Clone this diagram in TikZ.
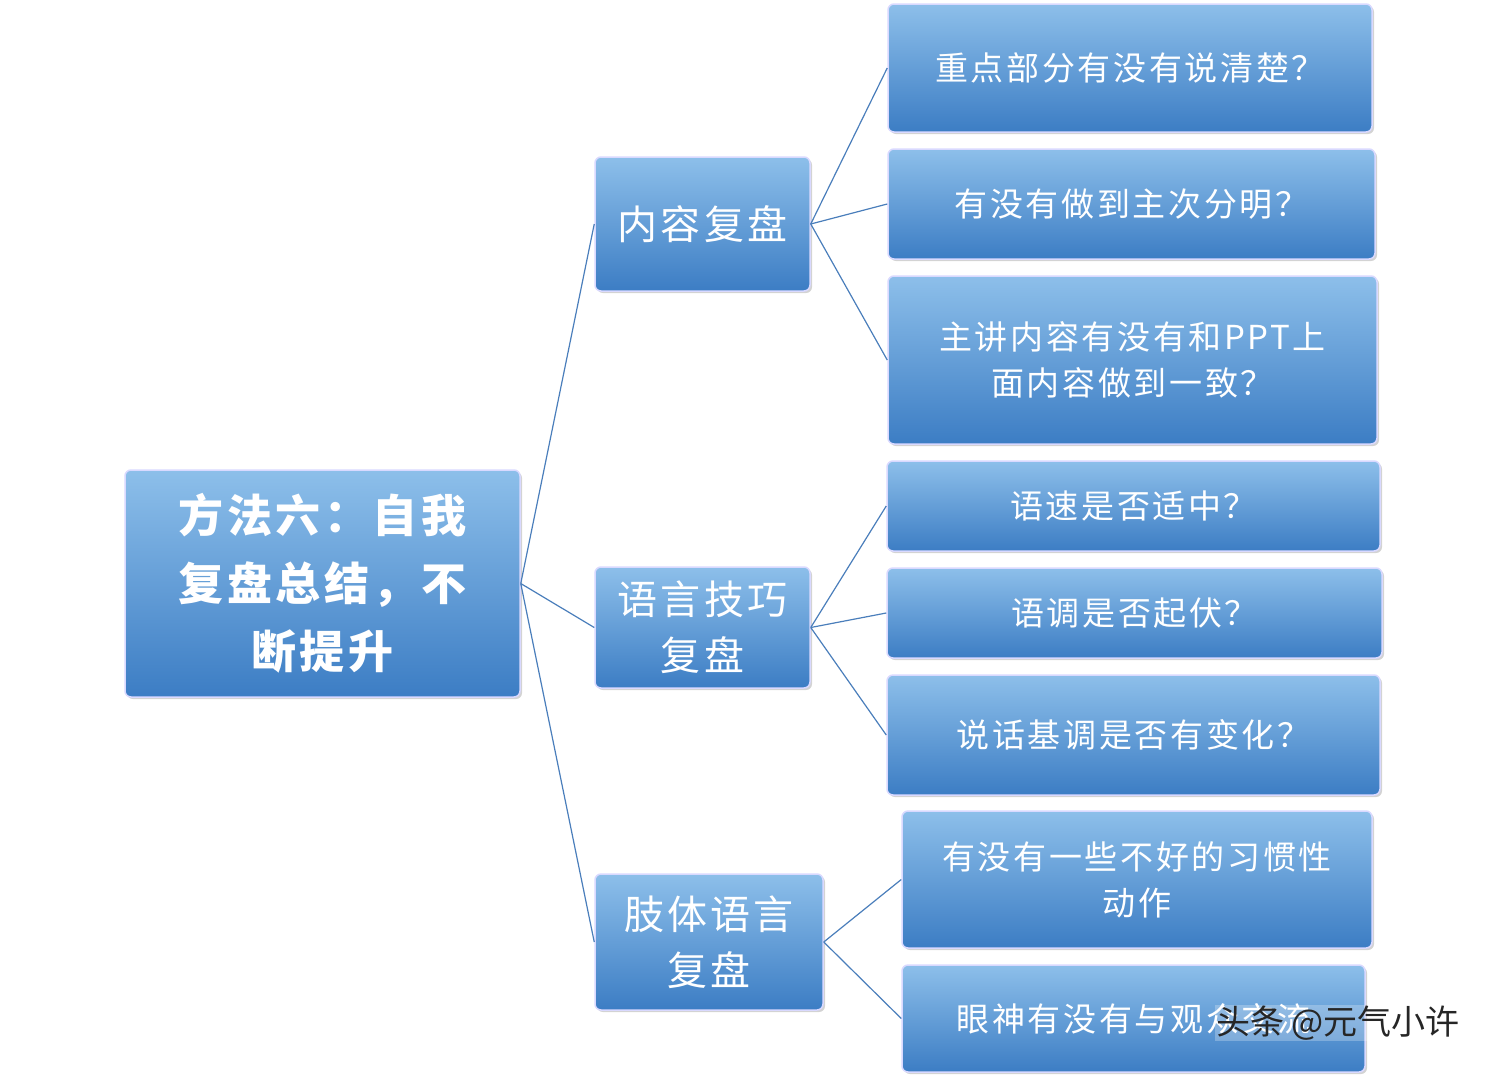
\documentclass[tikz,border=0pt]{standalone}
\usepackage{fontspec}
\setmainfont{Noto Sans CJK SC}[LetterSpace=8]
\usetikzlibrary{shadows}
\definecolor{ln}{HTML}{4A7EBB}
\definecolor{tc}{HTML}{8DBFEA}
\definecolor{bc}{HTML}{3C7DC4}
\tikzset{
 bx/.style={draw=white!85!blue,line width=1.5pt,rounded corners=6pt,top color=tc,bottom color=bc,
   text=white,align=center,inner sep=0pt,drop shadow={opacity=0.35,shadow xshift=2pt,shadow yshift=-2pt}},
 cn/.style={draw=ln,line width=1.2pt}
}
\begin{document}
\begin{tikzpicture}[x=1pt,y=-1pt]
\useasboundingbox (0,0) rectangle (1508,1077);
\newcommand\bxn[6]{\node[bx,minimum width=#4-#2,minimum height=#5-#3,font=\fontsize{33}{46}\selectfont] (#1) at ({(#2+#4)/2},{(#3+#5)/2}) {#6};}
\node[bx,minimum width=395,minimum height=227,font=\fontsize{45}{68}\selectfont\bfseries] (r) at (322.5,583.5) {方法六：自我\\复盘总结，不\\断提升};
\node[bx,minimum width=215,minimum height=134,font=\fontsize{40}{56}\selectfont] (a) at (702.5,224) {内容复盘};
\node[bx,minimum width=215,minimum height=121,font=\fontsize{40}{56}\selectfont] (b) at (702.5,627.5) {语言技巧\\复盘};
\node[bx,minimum width=228,minimum height=136,font=\fontsize{40}{56}\selectfont] (c) at (709,942) {肢体语言\\复盘};
\bxn{a1}{888}{4}{1372}{132}{重点部分有没有说清楚？}
\bxn{a2}{888}{149}{1375}{259}{有没有做到主次分明？}
\bxn{a3}{888}{276}{1377}{444}{主讲内容有没有和PPT上\\面内容做到一致？}
\bxn{b1}{887}{461}{1380}{551}{语速是否适中？}
\bxn{b2}{887}{568}{1382}{658}{语调是否起伏？}
\bxn{b3}{887}{675}{1380}{795}{说话基调是否有变化？}
\bxn{c1}{902}{811}{1372}{948}{有没有一些不好的习惯性\\动作}
\bxn{c2}{902}{965}{1365}{1072}{眼神有没有与观众交流}
\foreach \p/\q in {r/a,r/b,r/c,a/a1,a/a2,a/a3,b/b1,b/b2,b/b3,c/c1,c/c2}
  \draw[cn] (\p.east) -- (\q.west);
\node[font=\fontsize{34}{38}\selectfont\addfontfeature{LetterSpace=0},text=black!85,fill=white,fill opacity=0.25,text opacity=1,inner sep=1pt] (wm) at (1338,1023) {头条 @元气小许};
\end{tikzpicture}
\end{document}
